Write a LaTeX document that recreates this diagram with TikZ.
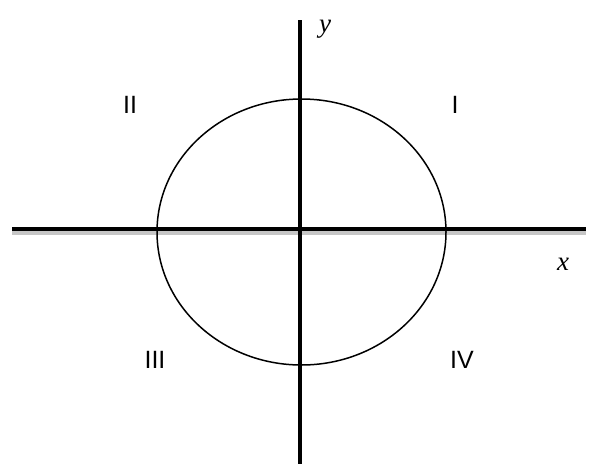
\documentclass[tikz,border=0pt]{standalone}
\usepackage{fontspec}
\usetikzlibrary{shapes.geometric}
\setmainfont{Liberation Sans}
\newfontfamily\serifit{Liberation Serif}[ItalicFont={Liberation Serif Italic}]
\begin{document}
\begin{tikzpicture}[x=1pt,y=-1pt,
  axis/.style={line width=4pt},
  shadow/.style={line width=4pt, gray!45},
  quad/.style={font=\fontsize{25}{25}\selectfont, inner sep=0pt},
  axlabel/.style={font=\fontsize{27}{27}\selectfont\serifit\itshape, inner sep=0pt}]
\useasboundingbox (0,0) rectangle (602,474);
\coordinate (xl) at (12,229);
\coordinate (xr) at (586,229);
\coordinate (yt) at (299.5,20);
\coordinate (yb) at (299.5,464);
\draw[shadow] ([yshift=-3.5pt]xl) -- ([yshift=-3.5pt]xr);
\draw[axis] (xl) -- (xr);
\draw[axis] (yt) -- (yb);
\node[draw, ellipse, line width=1.5pt, minimum width=289pt, minimum height=266pt, inner sep=0pt] (e) at (301.5,232) {};
\node[axlabel] (ylab) at (325,29) {y};
\node[axlabel] (xlab) at (563,264) {x};
\node[quad] (q1) at (455,105) {I};
\node[quad] (q2) at (130,105) {II};
\node[quad] (q3) at (155,360) {III};
\node[quad] (q4) at (462,360) {IV};
\end{tikzpicture}
\end{document}
